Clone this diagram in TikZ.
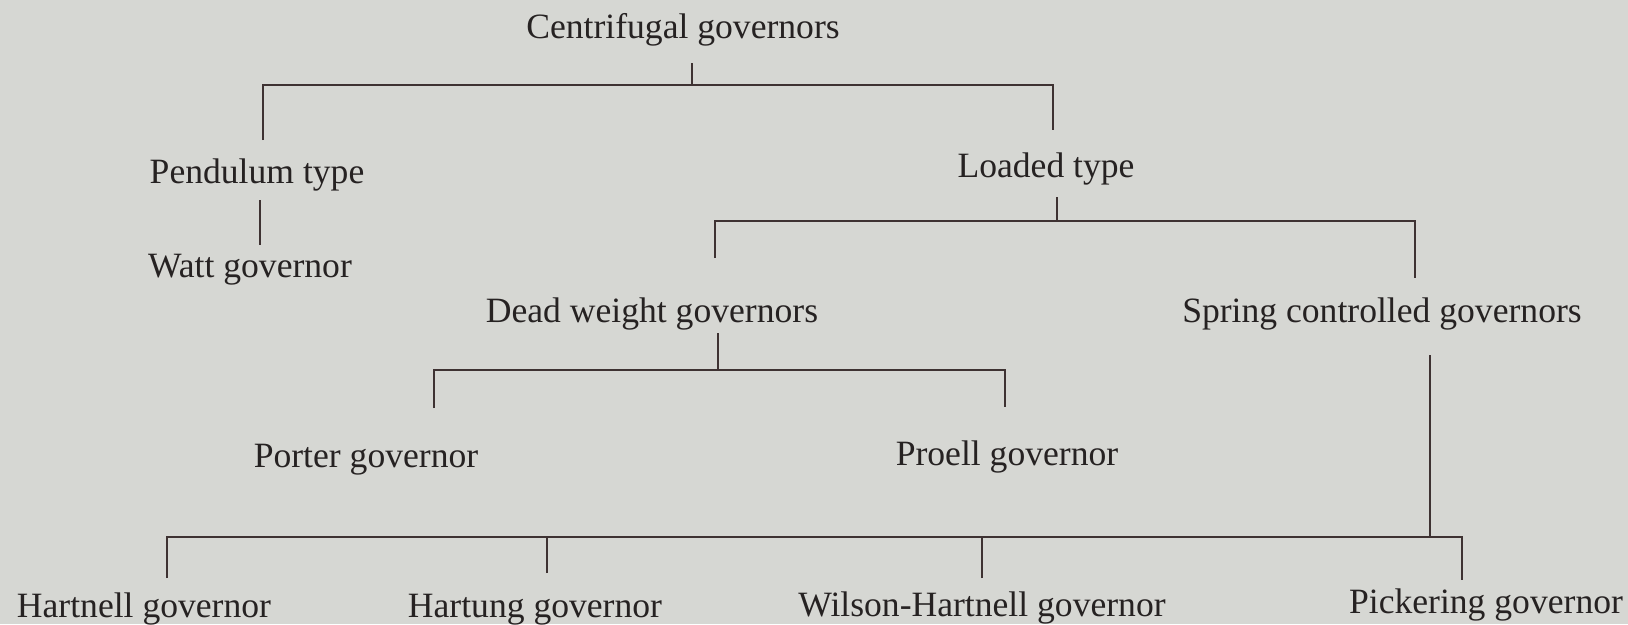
\documentclass[tikz,border=0pt]{standalone}
\usepackage{fontspec}
\setmainfont{Liberation Serif}
\definecolor{paper}{RGB}{214,215,211}
\definecolor{ink}{RGB}{38,34,34}
\definecolor{rule}{RGB}{62,50,50}
\begin{document}
\begin{tikzpicture}[x=1pt,y=-1pt,
  lbl/.style={anchor=base,inner sep=0pt,text=ink,font=\fontsize{35.6}{40}\selectfont},
  link/.style={draw=rule,line width=2.7pt}]
\fill[paper] (0,0) rectangle (1628,624);
\useasboundingbox (0,0) rectangle (1628,624);
% text nodes
\node[lbl] (cg) at (683,38) {Centrifugal governors};
\node[lbl] (pend) at (257,183) {Pendulum type};
\node[lbl] (watt) at (250,277) {Watt governor};
\node[lbl] (load) at (1046,177) {Loaded type};
\node[lbl] (dead) at (652,322) {Dead weight governors};
\node[lbl] (spring) at (1382,322) {Spring controlled governors};
\node[lbl] (porter) at (366,467) {Porter governor};
\node[lbl] (proell) at (1007,465) {Proell governor};
\node[lbl] (hartnell) at (144,617) {Hartnell governor};
\node[lbl] (hartung) at (535,617) {Hartung governor};
\node[lbl] (wilson) at (982,616) {Wilson-Hartnell governor};
\node[lbl] (pick) at (1486,613) {Pickering governor};
% junction coordinates
\coordinate (cgS) at (692,63);
\coordinate (cgB) at (692,85);
\coordinate (pendT) at (263,140);
\coordinate (loadT) at (1053,130);
\coordinate (pendS) at (260,200);
\coordinate (wattT) at (260,245);
\coordinate (loadS) at (1057,197);
\coordinate (loadB) at (1057,221);
\coordinate (deadT) at (715,258);
\coordinate (springT) at (1415,278);
\coordinate (deadS) at (718,333);
\coordinate (deadB) at (718,370);
\coordinate (porterT) at (434,408);
\coordinate (proellT) at (1005,407);
\coordinate (springS) at (1430,355);
\coordinate (springB) at (1430,537);
\coordinate (hartnellT) at (167,578);
\coordinate (hartungT) at (547,573);
\coordinate (wilsonT) at (982,578);
\coordinate (pickT) at (1462,580);
% connectors
\draw[link] (cgS) -- (cgB);
\draw[link] (pendT) |- (cgB) -| (loadT);
\draw[link] (pendS) -- (wattT);
\draw[link] (loadS) -- (loadB);
\draw[link] (deadT) |- (loadB) -| (springT);
\draw[link] (deadS) -- (deadB);
\draw[link] (porterT) |- (deadB) -| (proellT);
\draw[link] (springS) -- (springB);
\draw[link] (hartnellT) |- (springB) -| (pickT);
\draw[link] (hartungT) -- (hartungT |- springB);
\draw[link] (wilsonT) -- (wilsonT |- springB);
\end{tikzpicture}
\end{document}
